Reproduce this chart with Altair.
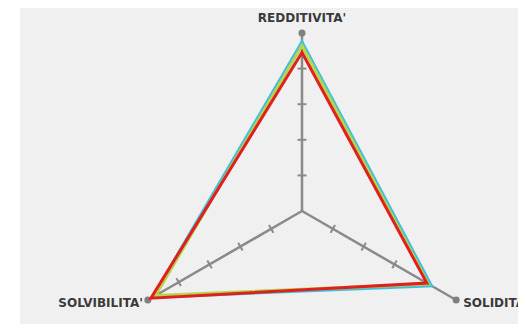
import altair as alt
import pandas as pd

# ---- data ----
axis_labels = ["REDDITIVITA'", "SOLIDITA'", "SOLVIBILITA'"]
axis_angles = [90, -30, 210]          # direction of each spoke, degrees
series_names = ["Serie 1", "Serie 2", "Serie 3"]
serie1 = [0.95, 0.84, 0.97]
serie2 = [0.93, 0.82, 0.95]
serie3 = [0.89, 0.81, 0.98]
series_values = [serie1, serie2, serie3]
series_colors = ["#3ebfe0", "#b4d54c", "#e0201e"]
tick_levels = [0.2, 0.4, 0.6, 0.8]

# ---- layout ----
W, H = 498, 316
R_PX = 178.0
CX, CY = 282.0, 203.0
xdom = [-CX / R_PX, (W - CX) / R_PX]
ydom = [-(H - CY) / R_PX, CY / R_PX]
xs = alt.Scale(domain=xdom, nice=False, zero=False)
ys = alt.Scale(domain=ydom, nice=False, zero=False)
GRAY = "#8a8a8a"

df_axes = pd.DataFrame({"label": axis_labels, "angle": axis_angles})
base_axes = alt.Chart(df_axes).transform_calculate(
    x1="cos(datum.angle*PI/180)", y1="sin(datum.angle*PI/180)", x0="0", y0="0"
)

spokes = base_axes.mark_rule(color=GRAY, strokeWidth=2.5).encode(
    x=alt.X("x0:Q", scale=xs, axis=None),
    y=alt.Y("y0:Q", scale=ys, axis=None),
    x2="x1:Q", y2="y1:Q",
)

tick_rows = [{"angle": a, "level": l} for a in axis_angles for l in tick_levels]
ticks = alt.Chart(pd.DataFrame(tick_rows)).transform_calculate(
    cx="datum.level*cos(datum.angle*PI/180)",
    cy="datum.level*sin(datum.angle*PI/180)",
).transform_calculate(
    tx1="datum.cx + 0.025*sin(datum.angle*PI/180)",
    ty1="datum.cy - 0.025*cos(datum.angle*PI/180)",
    tx2="datum.cx - 0.025*sin(datum.angle*PI/180)",
    ty2="datum.cy + 0.025*cos(datum.angle*PI/180)",
).mark_rule(color=GRAY, strokeWidth=2).encode(
    x=alt.X("tx1:Q", scale=xs, axis=None),
    y=alt.Y("ty1:Q", scale=ys, axis=None),
    x2="tx2:Q", y2="ty2:Q",
)

dots = base_axes.mark_circle(size=50, color="#7f7f7f", opacity=1).encode(
    x=alt.X("x1:Q", scale=xs, axis=None),
    y=alt.Y("y1:Q", scale=ys, axis=None),
)

layers = [spokes, ticks, dots]

for name, vals, col in zip(series_names, series_values, series_colors):
    df = pd.DataFrame({"axis": axis_labels, "angle": axis_angles, "value": vals,
                       "k": list(range(len(vals)))})
    line = alt.Chart(df).transform_calculate(
        x="datum.value*cos(datum.angle*PI/180)",
        y="datum.value*sin(datum.angle*PI/180)",
    ).mark_line(interpolate="linear-closed", strokeWidth=3, strokeJoin="miter",
                color=col).encode(
        x=alt.X("x:Q", scale=xs, axis=None),
        y=alt.Y("y:Q", scale=ys, axis=None),
        order="k:Q",
    )
    layers.append(line)

text_style = dict(font="DejaVu Sans", fontSize=12, fontWeight="bold", color="#3a3a3a",
                  baseline="alphabetic")
label_specs = [
    (axis_labels[0], dict(align="center", dx=0, dy=-11)),
    (axis_labels[1], dict(align="left", dx=7, dy=7)),
    (axis_labels[2], dict(align="right", dx=-5, dy=6.5)),
]
for lab, opts in label_specs:
    t = base_axes.transform_filter(alt.datum.label == lab).mark_text(
        **text_style, **opts
    ).encode(
        x=alt.X("x1:Q", scale=xs, axis=None),
        y=alt.Y("y1:Q", scale=ys, axis=None),
        text="label:N",
    )
    layers.append(t)

chart = alt.layer(*layers).properties(
    width=W, height=H,
    autosize=alt.AutoSizeParams(type="none"),
    padding={"left": 12, "top": 0, "right": 0, "bottom": 0},
    background="#ffffff",
).configure_view(fill="#f0f0f0", stroke=None)

chart.save("out.html", embed_options={"renderer": "svg", "actions": False})
